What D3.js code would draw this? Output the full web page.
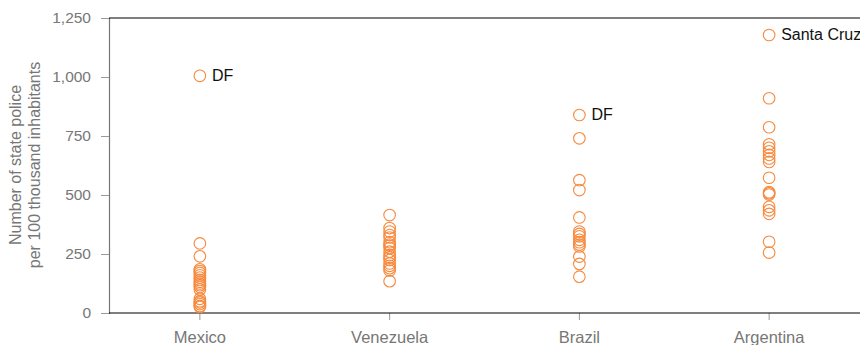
<!DOCTYPE html>
<html><head><meta charset="utf-8">
<script src="https://cdn.jsdelivr.net/npm/d3@7"></script>
<style>body{margin:0;background:#fff}svg{display:block;font-family:"Liberation Sans",Arial,Helvetica,sans-serif}</style>
</head><body><svg id="c" width="860" height="345"></svg>
<script>
const categories = ["Mexico","Venezuela","Brazil","Argentina"];
const mexico = [1005, 295, 240, 185, 178, 170, 160, 150, 140, 132, 125, 118, 110, 100, 60, 50, 45, 38, 30, 25];
const venezuela = [415, 360, 345, 330, 320, 300, 290, 285, 275, 260, 245, 235, 225, 210, 200, 190, 180, 135];
const brazil = [839, 740, 563, 521, 405, 345, 335, 325, 310, 300, 290, 282, 239, 208, 154];
const argentina = [1178, 910, 787, 715, 700, 685, 670, 655, 640, 573, 512, 507, 502, 450, 435, 420, 302, 256];
const yTicks = [0, 250, 500, 750, 1000, 1250];
const annotations = [
  {cat:"Mexico", value:1005, text:"DF"},
  {cat:"Brazil", value:839, text:"DF"},
  {cat:"Argentina", value:1178, text:"Santa Cruz"}
];
const yTitle = ["Number of state police", "per 100 thousand inhabitants"];

const series = [mexico, venezuela, brazil, argentina];
const svg = d3.select("#c");
const L = 109, R = 860, T = 18, B = 313;
const x = d3.scaleBand().domain(categories).range([105, 864]).padding(0);
const y = d3.scaleLinear().domain([0, 1250]).range([B, T]);
const cx = c => x(c) + x.bandwidth()/2;

// y axis
const ya = svg.append("g").attr("transform", `translate(${L},0)`)
  .call(d3.axisLeft(y).tickValues(yTicks).tickSize(8).tickPadding(10).tickFormat(d3.format(",")));
ya.select(".domain").attr("stroke", "#777").attr("stroke-width", 1.2);
ya.selectAll(".tick line").attr("stroke", "#999");
ya.selectAll(".tick text").attr("fill", "#777").attr("font-size", 15.5).attr("font-family", "inherit");

// x axis
const xa = svg.append("g").attr("transform", `translate(0,${B})`)
  .call(d3.axisBottom(x).tickSize(7).tickPadding(11));
xa.select(".domain").remove();
xa.selectAll(".tick line").attr("stroke", "#999");
xa.selectAll(".tick text").attr("fill", "#777").attr("font-size", 16.5).attr("font-family", "inherit");

// top and bottom spines
svg.append("line").attr("x1", L).attr("x2", R).attr("y1", B).attr("y2", B).attr("stroke", "#000").attr("stroke-width", 1.2);
svg.append("line").attr("x1", L).attr("x2", R).attr("y1", T).attr("y2", T).attr("stroke", "#000").attr("stroke-width", 1.2);

// points
categories.forEach((c, i) => {
  svg.append("g").selectAll("circle").data(series[i]).join("circle")
    .attr("cx", cx(c)).attr("cy", d => y(d)).attr("r", 5.8)
    .attr("fill", "none").attr("stroke", "#f7893d").attr("stroke-width", 1.1);
});

// annotations
svg.append("g").selectAll("text").data(annotations).join("text")
  .attr("x", d => cx(d.cat) + 12).attr("y", d => y(d.value) + 5.5)
  .attr("font-size", 16).attr("fill", "#111").text(d => d.text);

// y title
const yt = svg.append("text").attr("transform", "translate(0,165) rotate(-90)")
  .attr("text-anchor", "middle").attr("fill", "#777").attr("font-size", 16);
yt.append("tspan").attr("x", 0).attr("y", 21).text(yTitle[0]);
yt.append("tspan").attr("x", 0).attr("y", 40).text(yTitle[1]);
</script></body></html>
